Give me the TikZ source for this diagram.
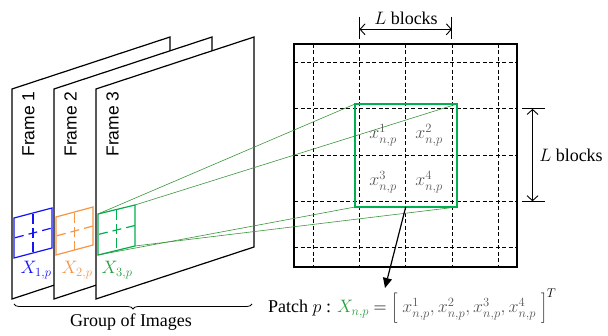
\RequirePackage{fix-cm}
\documentclass[tikz,border=0pt]{standalone}
\usepackage{fontspec}
\setmainfont{Liberation Serif}
\newfontfamily\arialf{Liberation Sans}
\usetikzlibrary{arrows.meta,calc,decorations.pathreplacing}
\definecolor{blueP}{RGB}{20,20,245}
\definecolor{orangeP}{RGB}{247,150,70}
\definecolor{greenP}{RGB}{0,176,80}
\definecolor{greenL}{RGB}{60,150,60}
\definecolor{greenT}{RGB}{40,160,60}
\definecolor{greyT}{RGB}{85,85,85}
\newcommand\smallpatch[5]{%
  \draw[#1,line width=1.2pt] (#2) -- (#3) -- (#4) -- (#5) -- cycle;
  \draw[#1,line width=1.2pt,dash pattern=on 10pt off 4pt,dash phase=-1pt]
    ($(#2)!0.5!(#3)$) -- ($(#5)!0.5!(#4)$);
  \draw[#1,line width=1.2pt,dash pattern=on 9pt off 5pt,dash phase=-1pt]
    ($(#2)!0.5!(#5)$) -- ($(#3)!0.5!(#4)$);
}
\begin{document}
\begin{tikzpicture}[x=1pt,y=-1pt,
  frame/.style={draw=black,fill=white,line width=1.2pt,line join=miter},
  framelabel/.style={rotate=90,font=\arialf\fontsize{17.5}{20}\selectfont},
  gridline/.style={line width=0.8pt,dash pattern=on 4pt off 2.5pt},
  greenlink/.style={greenL,line width=0.6pt},
  dimbar/.style={line width=0.9pt},
  dimarrow/.style={line width=0.9pt,{Straight Barb[length=5pt,width=11pt]}-{Straight Barb[length=5pt,width=11pt]}},
  cell/.style={text=greyT,inner sep=1pt,font=\fontsize{18}{20}\selectfont},
  txt/.style={font=\fontsize{18}{22}\selectfont}]
\useasboundingbox (0,0) rectangle (608,336);

% frames
\draw[frame] (12,89) -- (170,37) -- (170,247) -- (12,299) -- cycle;
\draw[frame] (54,89) -- (212,37) -- (212,247) -- (54,299) -- cycle;
\draw[frame] (96,89) -- (254,37) -- (254,247) -- (96,299) -- cycle;
\node[framelabel] (f1) at (28.5,124) {Frame 1};
\node[framelabel] (f2) at (70.5,124) {Frame 2};
\node[framelabel] (f3) at (112.5,124) {Frame 3};

% small patches
\coordinate (bTL) at (14,218); \coordinate (bTR) at (52,208);
\coordinate (bBR) at (52,248); \coordinate (bBL) at (14,258);
\coordinate (oTL) at (56,217); \coordinate (oTR) at (93,207);
\coordinate (oBR) at (93,245); \coordinate (oBL) at (56,255);
\coordinate (gTL) at (98,214); \coordinate (gTR) at (135,205);
\coordinate (gBR) at (135,246); \coordinate (gBL) at (98,255);
\smallpatch{blueP}{bTL}{bTR}{bBR}{bBL}
\smallpatch{orangeP}{oTL}{oTR}{oBR}{oBL}
\smallpatch{greenP}{gTL}{gTR}{gBR}{gBL}
\node[txt,text=blueP] (x1) at (36,270) {$X_{1,p}$};
\node[txt,text=orangeP] (x2) at (77,270) {$X_{2,p}$};
\node[txt,text=greenT] (x3) at (117,270) {$X_{3,p}$};

% brace
\draw[line width=0.8pt,decorate,decoration={brace,mirror,amplitude=5pt}]
  (14,304) -- (252,304);
\node[txt] (goi) at (131,322) {Group of Images};

% big grid
\draw[line width=1.3pt] (294,44) rectangle (517,267);
\foreach \i in {0,...,4} {
  \draw[gridline] (313.3+46.2*\i,44) -- (313.3+46.2*\i,267);
  \draw[gridline] (294,62.7+46.2*\i) -- (517,62.7+46.2*\i);
}

% big patch
\coordinate (PTL) at (355,104); \coordinate (PTR) at (457,104);
\coordinate (PBR) at (457,207); \coordinate (PBL) at (355,207);
\draw[greenlink] (gTL) -- (PTL);
\draw[greenlink] (gTR) -- (PTR);
\draw[greenlink] (gBL) -- (PBL);
\draw[greenlink] (gBR) -- (PBR);
\draw[greenP,line width=2pt] (PTL) rectangle (PBR);
\node[cell] (c1) at (383,135) {$x^1_{n,p}$};
\node[cell] (c2) at (429,135) {$x^2_{n,p}$};
\node[cell] (c3) at (383,182) {$x^3_{n,p}$};
\node[cell] (c4) at (429,182) {$x^4_{n,p}$};

% L blocks top
\coordinate (t1a) at (359.5,17); \coordinate (t1b) at (359.5,39);
\coordinate (t2a) at (451.9,17); \coordinate (t2b) at (451.9,39);
\draw[dimbar] (t1a) -- (t1b);
\draw[dimbar] (t2a) -- (t2b);
\draw[dimarrow] ($(t1a)!0.56!(t1b)$) -- ($(t2a)!0.56!(t2b)$);
\node[txt] (lt) at (406,18) {$L$ blocks};

% L blocks right
\coordinate (r1a) at (521.5,108.9); \coordinate (r1b) at (544.5,108.9);
\coordinate (r2a) at (521.5,201.3); \coordinate (r2b) at (544.5,201.3);
\draw[dimbar] (r1a) -- (r1b);
\draw[dimbar] (r2a) -- (r2b);
\draw[dimarrow] ($(r1a)!0.48!(r1b)$) -- ($(r2a)!0.48!(r2b)$);
\node[txt] (lr) at (571,155) {$L$ blocks};

% formula
\coordinate (pm) at (405.7,207);
\node[txt,anchor=base west,inner sep=0pt] (form) at (268,312.7)
  {Patch $p$ : \textcolor{greenT}{$X_{n,p}$} $= \left[\rule[-8pt]{0pt}{28pt}\;\textcolor{greyT}{x^1_{n,p},x^2_{n,p},x^3_{n,p},x^4_{n,p}}\;\right]^T$};
\coordinate (tip) at (385,288);
\draw[line width=1.2pt,-{Triangle[length=10pt,width=9pt]}] (pm) -- (tip);
\end{tikzpicture}
\end{document}
